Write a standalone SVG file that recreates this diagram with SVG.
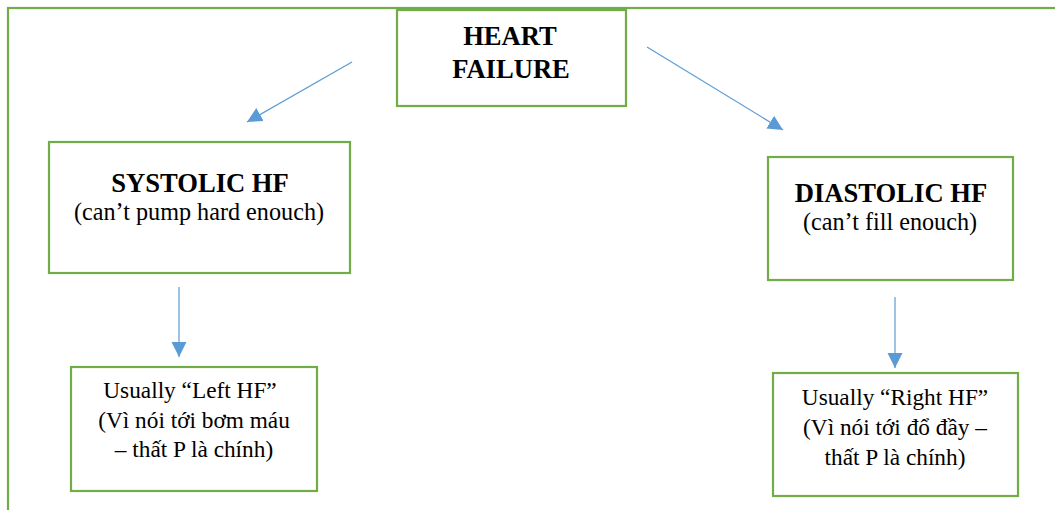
<svg xmlns="http://www.w3.org/2000/svg" width="1055" height="510" viewBox="0 0 1055 510">
<defs>
<style>
.box{fill:#fff;stroke:#70AD47;stroke-width:2.2}
.frame{fill:none;stroke:#70AD47;stroke-width:2.2}
.edge{fill:none;stroke:#5B9BD5;stroke-width:1.2}
text{fill:#000;text-anchor:middle}
.b{font-weight:bold;font-size:26.6px}
.n{font-size:24.2px}
.s{font-size:23.3px}
</style>
<marker id="ah" markerUnits="userSpaceOnUse" markerWidth="16" markerHeight="16" viewBox="0 0 16 16" refX="15" refY="8" orient="auto">
<path d="M0,0.5 L15,8 L0,15.5 Z" fill="#5B9BD5"/>
</marker>
</defs>
<rect class="frame" x="8" y="8" width="1100" height="560"/>
<g id="connectors">
<line class="edge" x1="352" y1="62" x2="247" y2="122" marker-end="url(#ah)"/>
<line class="edge" x1="647" y1="47" x2="783" y2="130" marker-end="url(#ah)"/>
<line class="edge" x1="179" y1="287" x2="179" y2="357" marker-end="url(#ah)"/>
<line class="edge" x1="895" y1="297" x2="895" y2="368" marker-end="url(#ah)"/>
</g>
<g font-family="'Liberation Serif', 'Times New Roman', 'DejaVu Serif', serif">
<g id="heart-failure">
<rect class="box" x="397" y="10" width="229" height="96"/>
<text class="b" x="510" y="45">HEART</text>
<text class="b" x="511" y="78">FAILURE</text>
</g>
<g id="systolic">
<rect class="box" x="49" y="142" width="301" height="131"/>
<text class="b" x="200" y="192">SYSTOLIC HF</text>
<text class="n" x="199" y="220">(can’t pump hard enouch)</text>
</g>
<g id="diastolic">
<rect class="box" x="768" y="157" width="245" height="123"/>
<text class="b" x="891" y="202">DIASTOLIC HF</text>
<text class="n" x="890" y="230">(can’t fill enouch)</text>
</g>
<g id="left-hf">
<rect class="box" x="71" y="367" width="246" height="124"/>
<text class="s" x="190" y="398">Usually “Left HF”</text>
<text class="s" x="194" y="428">(Vì nói tới bơm máu</text>
<text class="s" x="194" y="457">– thất P là chính)</text>
</g>
<g id="right-hf">
<rect class="box" x="773" y="373" width="245" height="123"/>
<text class="s" x="895" y="405">Usually “Right HF”</text>
<text class="s" x="895" y="435">(Vì nói tới đổ đầy –</text>
<text class="s" x="895" y="465">thất P là chính)</text>
</g>
</g>
</svg>
